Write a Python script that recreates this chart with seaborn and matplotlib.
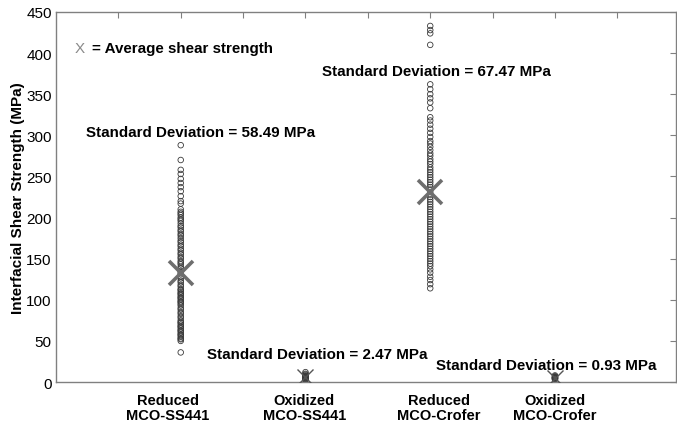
import matplotlib
matplotlib.use("Agg")
import matplotlib.pyplot as plt
import matplotlib.transforms as mtransforms
import pandas as pd
import seaborn as sns

# group positions on the x axis and the labels printed under them
groups = ["Reduced\nMCO-SS441", "Oxidized\nMCO-SS441", "Reduced\nMCO-Crofer", "Oxidized\nMCO-Crofer"]
group_pos = [2, 4, 6, 8]
label_pos = [1.79, 3.98, 6.14, 8.0]

reduced_ss441 = [288, 270, 258, 253, 247, 242, 237, 232, 226, 220, 217, 210, 207, 205, 203,
                 200, 198, 196, 193, 190, 188, 185, 183, 180, 178, 175, 172, 170, 167, 165,
                 162, 160, 157, 155, 152, 150, 147, 145, 143, 140, 138, 135, 133, 131, 128,
                 126, 123, 121, 118, 116, 113, 112, 110, 108, 107, 105, 103, 102, 100, 98,
                 97, 95, 93, 90, 88, 85, 83, 80, 78, 75, 73, 72, 70, 68, 67, 65, 63, 62,
                 60, 58, 57, 55, 53, 52, 50, 36]
oxidized_ss441 = [12, 10, 9, 8, 7, 7, 6, 6, 5, 5, 4, 4, 3, 3, 2]
reduced_crofer = [433, 428, 424, 410, 362, 356, 350, 345, 340, 333, 322, 318, 313, 308, 303,
                  298, 293, 290, 286, 282, 278, 275, 271, 268, 265, 261, 258, 255, 252, 249,
                  246, 243, 240, 237, 234, 231, 228, 225, 222, 219, 216, 213, 210, 207, 204,
                  201, 198, 195, 192, 189, 186, 183, 180, 177, 174, 171, 168, 165, 162, 159,
                  156, 153, 150, 147, 144, 141, 137, 133, 128, 124, 119, 114]
oxidized_crofer = [8, 7, 6, 6, 5, 5, 5, 4, 4, 3]

# averages (the X markers) and standard deviations
averages = [132, 6, 231, 5]
std_devs = ["58.49", "2.47", "67.47", "0.93"]

series = [reduced_ss441, oxidized_ss441, reduced_crofer, oxidized_crofer]
df = pd.DataFrame({
    "pos": [p for p, s in zip(group_pos, series) for _ in s],
    "strength": [v for s in series for v in s],
})
avg_df = pd.DataFrame({"pos": group_pos, "avg": averages})

sns.set_style("white")
plt.rcParams["font.family"] = ["Liberation Sans", "DejaVu Sans"]
plt.rcParams["text.color"] = "black"

fig = plt.figure(figsize=(6.77, 4.27), dpi=100)
ax = fig.add_axes([0.0827, 0.103, 0.9158, 0.8666])

sns.scatterplot(data=df, x="pos", y="strength", ax=ax, marker="o", s=16,
                facecolor="none", edgecolor="#3a3a3a", linewidth=0.6, legend=False)

# big grey X for the reduced samples, small dark X for the oxidized ones
big = avg_df.iloc[[0, 2]]
small = avg_df.iloc[[1, 3]]
ax.plot(big["pos"], big["avg"], ls="none", marker="x", ms=17, mew=2.6, color="#6e6e6e", zorder=5)
ax.plot(small["pos"], small["avg"], ls="none", marker="x", ms=12, mew=1.0, color="#555555", zorder=5)

ax.set_xlim(0, 9.94)
ax.set_ylim(0, 450)
ax.set_xticks(range(1, 10))
ax.set_xticklabels([])
ax.set_yticks(range(0, 451, 50))
ax.tick_params(direction="in", top=True, right=True, length=4, width=0.8,
               color="#808080", labelcolor="black", labelsize=11, pad=3)
for sp in ax.spines.values():
    sp.set_color("#808080")
    sp.set_linewidth(1.0)
ax.set_xlabel("")
ax.set_ylabel("Interfacial Shear Strength (MPa)", fontsize=11, fontweight="bold",
              color="black", labelpad=1)

# category labels below the axis
trans = mtransforms.blended_transform_factory(ax.transData, ax.transAxes)
for x, g in zip(label_pos, groups):
    ax.text(x, -0.03, g, transform=trans, ha="center", va="top", fontsize=10.5,
            fontweight="bold", linespacing=1.1)

# annotations
ax.text(0.3, 406, "X", color="#8a8a8a", fontsize=11, va="center")
ax.text(0.58, 406, "= Average shear strength", fontsize=10.9, fontweight="bold", va="center")
sd_xy = [(0.48, 304), (2.42, 34), (4.27, 378), (6.1, 21)]
for (x, y), sd in zip(sd_xy, std_devs):
    ax.text(x, y, f"Standard Deviation = {sd} MPa", fontsize=10.9, fontweight="bold", va="center")

fig.savefig("out.png", dpi=100)
